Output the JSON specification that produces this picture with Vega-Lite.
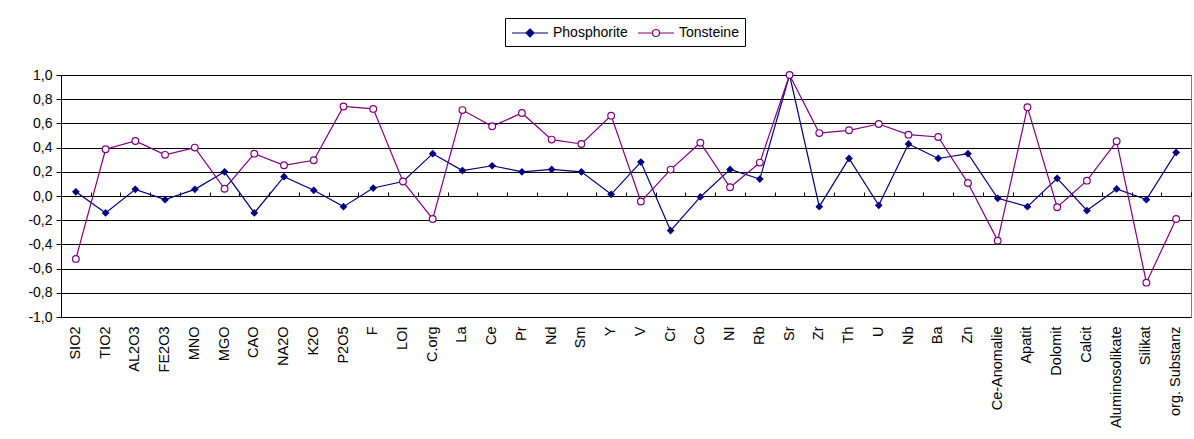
{
  "$schema": "https://vega.github.io/schema/vega-lite/v6.json",
  "width": 1130,
  "height": 242,
  "autosize": {"type": "none"},
  "padding": {"left": 61, "top": 75, "right": 3, "bottom": 122},
  "background": "white",
  "config": {
    "font": "Liberation Sans",
    "view": {"stroke": "#808080", "strokeWidth": 1},
    "axis": {"labelFont": "Liberation Sans", "labelColor": "#000", "labelFontSize": 14}
  },
  "data": {"values": [
    {"i": 0, "cat": "SIO2", "series": "Phosphorite", "value": 0.035},
    {"i": 1, "cat": "TIO2", "series": "Phosphorite", "value": -0.14},
    {"i": 2, "cat": "AL2O3", "series": "Phosphorite", "value": 0.055},
    {"i": 3, "cat": "FE2O3", "series": "Phosphorite", "value": -0.03},
    {"i": 4, "cat": "MNO", "series": "Phosphorite", "value": 0.055},
    {"i": 5, "cat": "MGO", "series": "Phosphorite", "value": 0.2},
    {"i": 6, "cat": "CAO", "series": "Phosphorite", "value": -0.14},
    {"i": 7, "cat": "NA2O", "series": "Phosphorite", "value": 0.16},
    {"i": 8, "cat": "K2O", "series": "Phosphorite", "value": 0.047},
    {"i": 9, "cat": "P2O5", "series": "Phosphorite", "value": -0.088},
    {"i": 10, "cat": "F", "series": "Phosphorite", "value": 0.066},
    {"i": 11, "cat": "LOI", "series": "Phosphorite", "value": 0.12},
    {"i": 12, "cat": "C.org", "series": "Phosphorite", "value": 0.35},
    {"i": 13, "cat": "La", "series": "Phosphorite", "value": 0.21},
    {"i": 14, "cat": "Ce", "series": "Phosphorite", "value": 0.25},
    {"i": 15, "cat": "Pr", "series": "Phosphorite", "value": 0.2},
    {"i": 16, "cat": "Nd", "series": "Phosphorite", "value": 0.22},
    {"i": 17, "cat": "Sm", "series": "Phosphorite", "value": 0.2},
    {"i": 18, "cat": "Y", "series": "Phosphorite", "value": 0.014},
    {"i": 19, "cat": "V", "series": "Phosphorite", "value": 0.28},
    {"i": 20, "cat": "Cr", "series": "Phosphorite", "value": -0.286},
    {"i": 21, "cat": "Co", "series": "Phosphorite", "value": -0.008},
    {"i": 22, "cat": "NI", "series": "Phosphorite", "value": 0.22},
    {"i": 23, "cat": "Rb", "series": "Phosphorite", "value": 0.14},
    {"i": 24, "cat": "Sr", "series": "Phosphorite", "value": 1.0},
    {"i": 25, "cat": "Zr", "series": "Phosphorite", "value": -0.088},
    {"i": 26, "cat": "Th", "series": "Phosphorite", "value": 0.31},
    {"i": 27, "cat": "U", "series": "Phosphorite", "value": -0.077},
    {"i": 28, "cat": "Nb", "series": "Phosphorite", "value": 0.43},
    {"i": 29, "cat": "Ba", "series": "Phosphorite", "value": 0.31},
    {"i": 30, "cat": "Zn", "series": "Phosphorite", "value": 0.35},
    {"i": 31, "cat": "Ce-Anomalie", "series": "Phosphorite", "value": -0.019},
    {"i": 32, "cat": "Apatit", "series": "Phosphorite", "value": -0.088},
    {"i": 33, "cat": "Dolomit", "series": "Phosphorite", "value": 0.146},
    {"i": 34, "cat": "Calcit", "series": "Phosphorite", "value": -0.12},
    {"i": 35, "cat": "Aluminosolikate", "series": "Phosphorite", "value": 0.058},
    {"i": 36, "cat": "Silikat", "series": "Phosphorite", "value": -0.03},
    {"i": 37, "cat": "org. Substanz", "series": "Phosphorite", "value": 0.36},
    {"i": 0, "cat": "SIO2", "series": "Tonsteine", "value": -0.52},
    {"i": 1, "cat": "TIO2", "series": "Tonsteine", "value": 0.386},
    {"i": 2, "cat": "AL2O3", "series": "Tonsteine", "value": 0.455},
    {"i": 3, "cat": "FE2O3", "series": "Tonsteine", "value": 0.34},
    {"i": 4, "cat": "MNO", "series": "Tonsteine", "value": 0.4},
    {"i": 5, "cat": "MGO", "series": "Tonsteine", "value": 0.06},
    {"i": 6, "cat": "CAO", "series": "Tonsteine", "value": 0.35},
    {"i": 7, "cat": "NA2O", "series": "Tonsteine", "value": 0.254},
    {"i": 8, "cat": "K2O", "series": "Tonsteine", "value": 0.295},
    {"i": 9, "cat": "P2O5", "series": "Tonsteine", "value": 0.74},
    {"i": 10, "cat": "F", "series": "Tonsteine", "value": 0.72},
    {"i": 11, "cat": "LOI", "series": "Tonsteine", "value": 0.12},
    {"i": 12, "cat": "C.org", "series": "Tonsteine", "value": -0.19},
    {"i": 13, "cat": "La", "series": "Tonsteine", "value": 0.71},
    {"i": 14, "cat": "Ce", "series": "Tonsteine", "value": 0.576},
    {"i": 15, "cat": "Pr", "series": "Tonsteine", "value": 0.686},
    {"i": 16, "cat": "Nd", "series": "Tonsteine", "value": 0.466},
    {"i": 17, "cat": "Sm", "series": "Tonsteine", "value": 0.43},
    {"i": 18, "cat": "Y", "series": "Tonsteine", "value": 0.664},
    {"i": 19, "cat": "V", "series": "Tonsteine", "value": -0.046},
    {"i": 20, "cat": "Cr", "series": "Tonsteine", "value": 0.218},
    {"i": 21, "cat": "Co", "series": "Tonsteine", "value": 0.44},
    {"i": 22, "cat": "NI", "series": "Tonsteine", "value": 0.072},
    {"i": 23, "cat": "Rb", "series": "Tonsteine", "value": 0.276},
    {"i": 24, "cat": "Sr", "series": "Tonsteine", "value": 1.0},
    {"i": 25, "cat": "Zr", "series": "Tonsteine", "value": 0.52},
    {"i": 26, "cat": "Th", "series": "Tonsteine", "value": 0.543},
    {"i": 27, "cat": "U", "series": "Tonsteine", "value": 0.595},
    {"i": 28, "cat": "Nb", "series": "Tonsteine", "value": 0.507},
    {"i": 29, "cat": "Ba", "series": "Tonsteine", "value": 0.488},
    {"i": 30, "cat": "Zn", "series": "Tonsteine", "value": 0.107},
    {"i": 31, "cat": "Ce-Anomalie", "series": "Tonsteine", "value": -0.369},
    {"i": 32, "cat": "Apatit", "series": "Tonsteine", "value": 0.733},
    {"i": 33, "cat": "Dolomit", "series": "Tonsteine", "value": -0.093},
    {"i": 34, "cat": "Calcit", "series": "Tonsteine", "value": 0.127},
    {"i": 35, "cat": "Aluminosolikate", "series": "Tonsteine", "value": 0.452},
    {"i": 36, "cat": "Silikat", "series": "Tonsteine", "value": -0.716},
    {"i": 37, "cat": "org. Substanz", "series": "Tonsteine", "value": -0.19}
  ]},
  "resolve": {"axis": {"x": "independent", "y": "independent"}},
  "layer": [
    {
      "mark": {"type": "line", "strokeWidth": 1.2},
      "encoding": {
        "x": {
          "field": "cat", "type": "nominal", "sort": null, "bandPosition": 0.5,
          "scale": {"type": "band", "paddingInner": 0, "paddingOuter": 0},
          "axis": {"title": null, "domain": false, "ticks": false, "labelAngle": -90, "labelPadding": 9, "labelFontSize": 14.5}
        },
        "y": {
          "field": "value", "type": "quantitative",
          "scale": {"domain": [-1, 1], "nice": false, "zero": false},
          "axis": {
            "title": null,
            "values": [-1, -0.8, -0.6, -0.4, -0.2, 0, 0.2, 0.4, 0.6, 0.8, 1],
            "labelOverlap": false,
            "labelExpr": "replace(replace(format(datum.value, '.1f'), '.', ','), '\u2212', '-')",
            "domainColor": "#000", "tickColor": "#000", "tickSize": 5, "labelPadding": 4,
            "gridColor": "#000", "gridOpacity": 1, "gridWidth": 1
          }
        },
        "color": {
          "field": "series", "type": "nominal",
          "scale": {"domain": ["Phosphorite", "Tonsteine"], "range": ["#000080", "#800080"]},
          "legend": {
            "orient": "none", "legendX": 444, "legendY": -57, "direction": "horizontal",
            "title": null, "strokeColor": "#000", "fillColor": "white", "padding": 6,
            "symbolSize": 256, "symbolStrokeWidth": 1.2, "symbolType": "stroke",
            "labelFont": "Liberation Sans", "labelFontSize": 14, "labelColor": "#000",
            "labelOffset": 24, "columnPadding": 7,
            "encode": {
              "symbols": {
                "update": {
                  "shape": {"signal": "datum.value === 'Phosphorite' ? 'M-1,0L3.5,0M1.25,-0.5L1.75,0L1.25,0.5L0.75,0Z' : 'M-1,0L0.81,0M1.69,0L3.5,0M0.81,0A0.44,0.44,0,1,0,1.69,0A0.44,0.44,0,1,0,0.81,0Z'"},
                  "fill": {"signal": "datum.value === 'Phosphorite' ? '#000080' : 'white'"}
                }
              }
            }
          }
        },
        "order": {"field": "i", "type": "quantitative"}
      }
    },
    {
      "transform": [{"filter": "datum.series === 'Phosphorite'"}],
      "mark": {"type": "point", "shape": "diamond", "filled": true, "color": "#000080", "size": 60, "opacity": 1},
      "encoding": {
        "x": {
          "field": "cat", "type": "nominal", "sort": null, "bandPosition": 0.5,
          "axis": {"title": null, "labels": false, "offset": -121, "domain": true, "domainColor": "#000", "ticks": true, "tickColor": "#000", "tickSize": 4, "tickBand": "extent", "grid": false}
        },
        "y": {"field": "value", "type": "quantitative", "axis": null}
      }
    },
    {
      "transform": [{"filter": "datum.series === 'Tonsteine'"}],
      "mark": {"type": "point", "shape": "circle", "filled": false, "fill": "white", "fillOpacity": 1, "stroke": "#800080", "strokeWidth": 1.2, "size": 45, "opacity": 1},
      "encoding": {
        "x": {"field": "cat", "type": "nominal", "sort": null, "bandPosition": 0.5, "axis": null},
        "y": {"field": "value", "type": "quantitative", "axis": null}
      }
    }
  ]
}
